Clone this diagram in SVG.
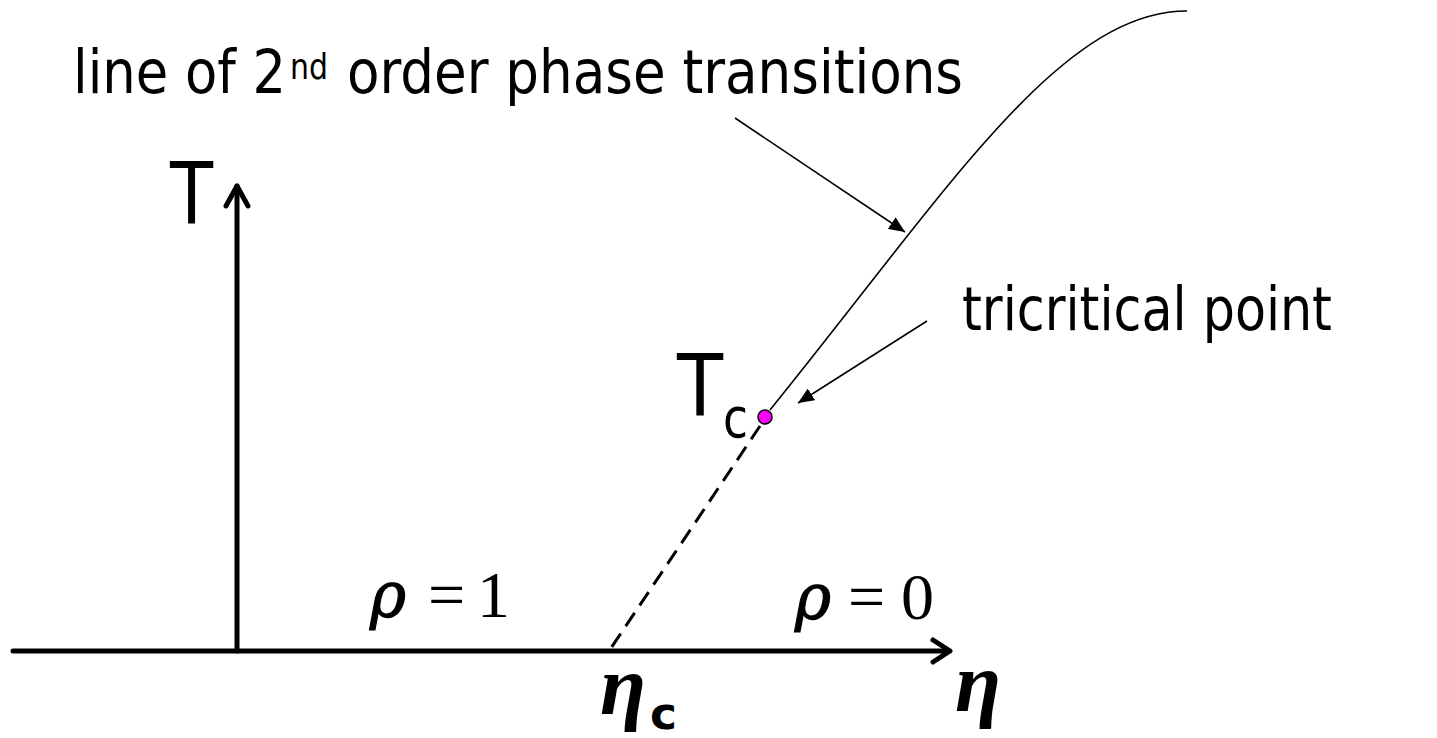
<svg xmlns="http://www.w3.org/2000/svg" width="1437" height="738" viewBox="0 0 1437 738">
<style>
.sans{font-family:"DejaVu Sans Condensed","DejaVu Sans","Verdana",sans-serif;fill:#000}
.serif{font-family:"Liberation Serif","Times New Roman",serif;fill:#000}
.greek{font-family:"DejaVu Serif","Liberation Serif",serif;font-style:italic;fill:#000;stroke:#000;stroke-width:1.2}
.axis{stroke:#000;stroke-width:5;fill:none;stroke-linecap:round;stroke-linejoin:round}
.thin{stroke:#000;stroke-width:1.6;fill:none}
</style>
<defs>
<marker id="ah" markerUnits="userSpaceOnUse" markerWidth="18" markerHeight="14" refX="16" refY="7" orient="auto">
<path d="M0,0 L16,7 L0,14 Z" fill="#000"/>
</marker>
</defs>
<rect width="1437" height="738" fill="#fff"/>
<g id="axes">
<line class="axis" x1="13" y1="651" x2="949" y2="651"/>
<path class="axis" d="M933,640 L950,651 L933,662"/>
<line class="axis" x1="237" y1="651" x2="237" y2="186"/>
<path class="axis" d="M226,206 L237,186 L248,206"/>
</g>
<g id="connectors">
<path id="transition-line" class="thin" d="M770,410 C948,190 1060,11 1187,11"/>
<line id="first-order" x1="760" y1="426" x2="609" y2="651" stroke="#000" stroke-width="3" stroke-dasharray="16 9"/>
<line id="arrow-line" class="thin" x1="735" y1="118" x2="905" y2="232" marker-end="url(#ah)"/>
<line id="arrow-tri" class="thin" x1="927" y1="321" x2="798" y2="403" marker-end="url(#ah)"/>
</g>
<g id="tricritical-point">
<circle cx="765" cy="417" r="7" fill="#FF00FF" stroke="#000" stroke-width="1.5"/>
</g>
<g id="label-line">
<text class="sans" x="73" y="93" font-size="60" textLength="213" lengthAdjust="spacingAndGlyphs">line of 2</text>
<text class="sans" x="290" y="79" font-size="36" textLength="38" lengthAdjust="spacingAndGlyphs">nd</text>
<text class="sans" x="347" y="93" font-size="60" textLength="616" lengthAdjust="spacingAndGlyphs">order phase transitions</text>
</g>
<g id="label-tricritical">
<text class="sans" x="962" y="330" font-size="60" textLength="370" lengthAdjust="spacingAndGlyphs">tricritical point</text>
</g>
<g id="label-T">
<text class="sans" x="170" y="223" font-size="85" textLength="43" lengthAdjust="spacingAndGlyphs">T</text>
</g>
<g id="label-Tc">
<text class="sans" x="677" y="415" font-size="85" textLength="46" lengthAdjust="spacingAndGlyphs">T</text>
<text class="sans" x="723" y="437" font-size="55" textLength="25" lengthAdjust="spacingAndGlyphs">c</text>
</g>
<g id="label-rho1">
<text class="greek" x="370" y="617" font-size="64" textLength="36" lengthAdjust="spacingAndGlyphs">ρ</text>
<text class="serif" x="428" y="617" font-size="66">=</text>
<text class="serif" x="477" y="617" font-size="66">1</text>
</g>
<g id="label-rho0">
<text class="greek" x="795" y="619" font-size="64" textLength="36" lengthAdjust="spacingAndGlyphs">ρ</text>
<text class="serif" x="848" y="619" font-size="66">=</text>
<text class="serif" x="901" y="619" font-size="66">0</text>
</g>
<g id="label-etac">
<text class="serif" x="600" y="714" font-size="84" font-style="italic" font-weight="bold">η</text>
<text class="sans" x="650" y="729" font-size="44" font-weight="bold" textLength="27" lengthAdjust="spacingAndGlyphs">c</text>
</g>
<g id="label-eta">
<text class="serif" x="955" y="711" font-size="84" font-style="italic" font-weight="bold">η</text>
</g>
</svg>
